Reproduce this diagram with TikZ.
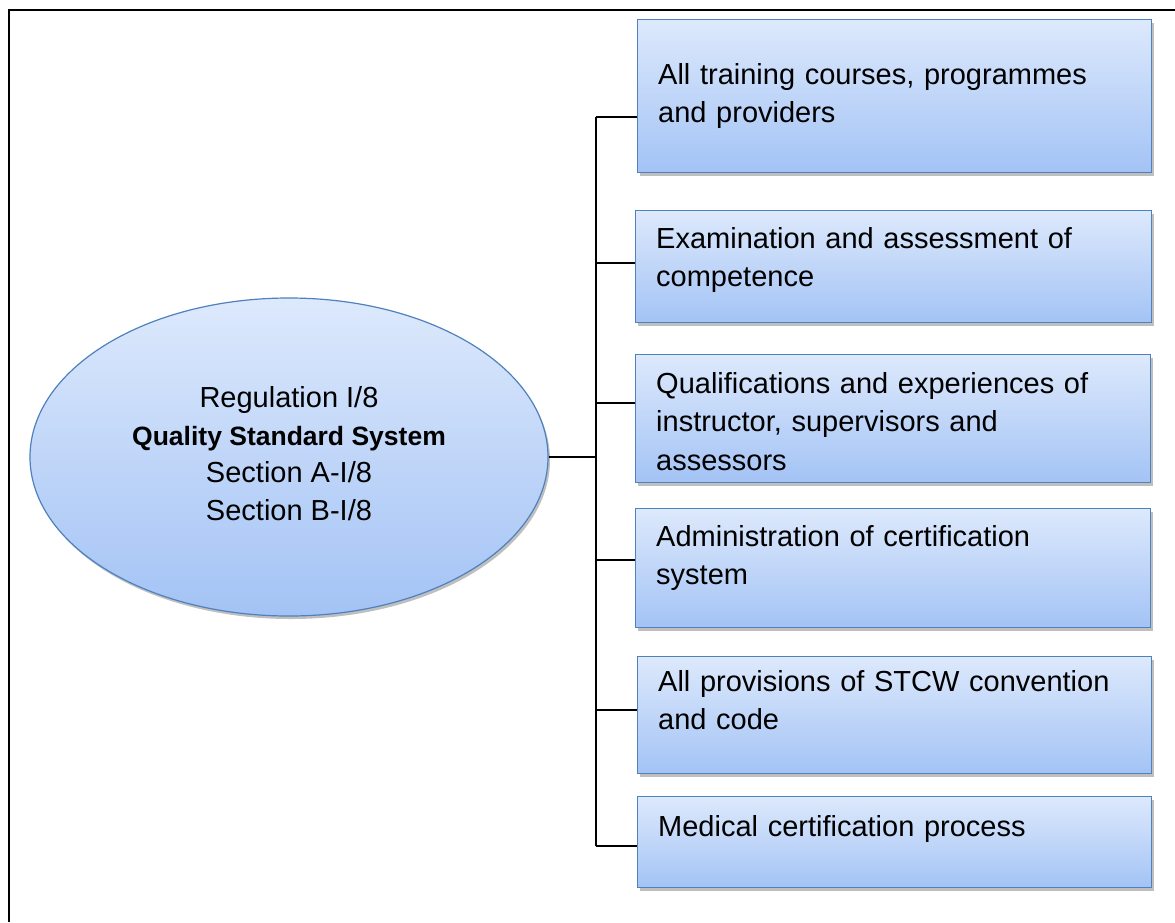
\documentclass[tikz,border=0pt]{standalone}
\usepackage{fontspec}
\setmainfont{Liberation Sans}
\usetikzlibrary{shapes.geometric,shadows}
\definecolor{fillTop}{RGB}{221,233,252}
\definecolor{fillBot}{RGB}{163,195,245}
\definecolor{edgeBlue}{RGB}{79,129,189}
\tikzset{
  bluebox/.style={draw=edgeBlue, line width=1.2pt, top color=fillTop, bottom color=fillBot,
    drop shadow={shadow xshift=2pt, shadow yshift=-3pt, fill=black, opacity=0.25},
    inner sep=0, anchor=north west},
  boxtext/.style={anchor=base west, inner sep=0, align=left, text width=480pt,
    font=\fontsize{29}{38.5}\selectfont},
  conn/.style={draw=black, line width=1.5pt}
}
\begin{document}
\begin{tikzpicture}[x=1pt,y=-1pt]
\useasboundingbox (0,0) rectangle (1175,922);
\fill[white] (0,0) rectangle (1175,922);
\draw[line width=2.2pt] (9,922) -- (9,10) -- (1175,10);
% ellipse
\node[ellipse, draw=edgeBlue, line width=1.2pt, top color=fillTop, bottom color=fillBot,
  drop shadow={shadow xshift=2pt, shadow yshift=-3pt, fill=black, opacity=0.25},
  minimum width=518pt, minimum height=318pt, inner sep=0] (E) at (289,457) {};
\node[align=center, inner sep=0, anchor=base, font=\fontsize{29}{37.5}\selectfont] (Et) at (289,520)
  {Regulation I/8\\{\fontsize{26.5}{37.5}\selectfont\bfseries Quality Standard System}\\Section A-I/8\\Section B-I/8};
% boxes
\node[bluebox, minimum width=514pt, minimum height=153pt] (b1) at (637,19) {};
\node[bluebox, minimum width=516pt, minimum height=112pt] (b2) at (635,210) {};
\node[bluebox, minimum width=515pt, minimum height=128pt] (b3) at (635,354) {};
\node[bluebox, minimum width=515pt, minimum height=119pt] (b4) at (635,508) {};
\node[bluebox, minimum width=514pt, minimum height=117pt] (b5) at (637,656) {};
\node[bluebox, minimum width=514pt, minimum height=91pt] (b6) at (637,796) {};
% texts
\node[boxtext] (x1) at (658,84) {All training courses, programmes\\and providers};
\node[boxtext] (x2) at (656,248) {Examination and assessment of\\competence};
\node[boxtext] (x3) at (656,393) {Qualifications and experiences of\\instructor, supervisors and\\assessors};
\node[boxtext] (x4) at (656,546) {Administration of certification\\system};
\node[boxtext] (x5) at (658,691) {All provisions of STCW convention\\and code};
\node[boxtext] (x6) at (658,836) {Medical certification process};
% connectors
\coordinate (t1) at (596,117);
\coordinate (t2) at (596,263);
\coordinate (t3) at (596,403);
\coordinate (t4) at (596,560);
\coordinate (t5) at (596,710);
\coordinate (t6) at (596,846);
\draw[conn] (t1) -- (t6);
\draw[conn] (t1) -- (b1.west |- t1);
\draw[conn] (t2) -- (b2.west |- t2);
\draw[conn] (t3) -- (b3.west |- t3);
\draw[conn] (t4) -- (b4.west |- t4);
\draw[conn] (t5) -- (b5.west |- t5);
\draw[conn] (t6) -- (b6.west |- t6);
\draw[conn] (E.east) -- (E.east -| t1);
\end{tikzpicture}
\end{document}
